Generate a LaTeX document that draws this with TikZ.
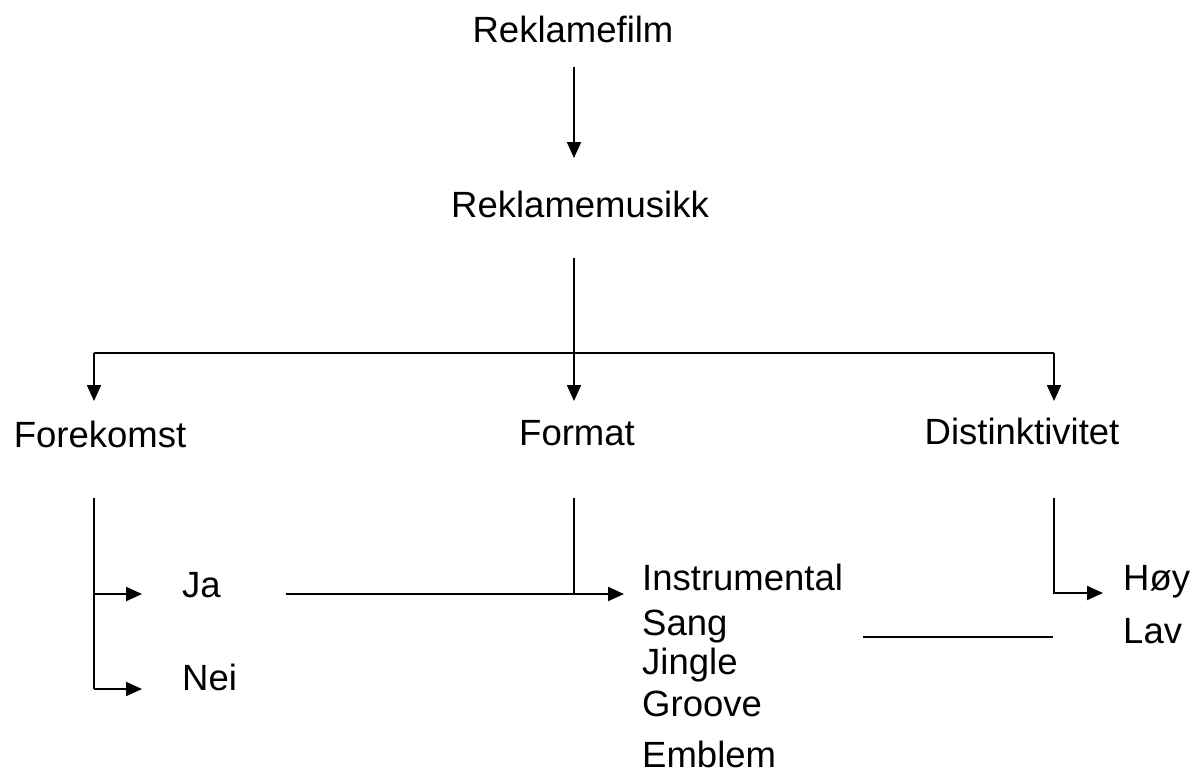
\documentclass[tikz,border=0pt]{standalone}
\usepackage{fontspec}
\setmainfont{Liberation Sans}
\usetikzlibrary{arrows.meta}
\begin{document}
\begin{tikzpicture}[x=1pt,y=-1pt,
  lbl/.style={inner sep=0pt, font=\fontsize{36.5}{42}\selectfont},
  conn/.style={line width=2pt},
  arr/.style={conn,-{Triangle[length=16pt,width=14pt]}}]
\useasboundingbox (0,0) rectangle (1193,773);
% texts
\node[lbl,anchor=base] (rf) at (573,43) {Reklamefilm};
\node[lbl,anchor=base] (rm) at (580,217) {Reklamemusikk};
\node[lbl,anchor=base] (fk) at (100,447) {Forekomst};
\node[lbl,anchor=base] (fm) at (577,445) {Format};
\node[lbl,anchor=base] (di) at (1022,444) {Distinktivitet};
\node[lbl,anchor=base west] (ja) at (182,597) {Ja};
\node[lbl,anchor=base west] (nei) at (182,690) {Nei};
\node[lbl,anchor=base west] (ins) at (642,590) {Instrumental};
\node[lbl,anchor=base west] (sang) at (642,635) {Sang};
\node[lbl,anchor=base west] (jingle) at (642,674) {Jingle};
\node[lbl,anchor=base west] (groove) at (642,716) {Groove};
\node[lbl,anchor=base west] (emblem) at (642,767) {Emblem};
\node[lbl,anchor=base west] (hoy) at (1123,590) {Høy};
\node[lbl,anchor=base west] (lav) at (1123,643) {Lav};
% connector points
\coordinate (rfo) at (574,67);
\coordinate (rmi) at (574,158);
\coordinate (rmo) at (574,258);
\coordinate (bl) at (94,353);
\coordinate (br) at (1054,353);
\coordinate (fki) at (94,401);
\coordinate (fmi) at (574,401);
\coordinate (dii) at (1054,401);
\coordinate (fko) at (94,498);
\coordinate (jai) at (142,594);
\coordinate (neii) at (142,689);
\coordinate (fkj) at (94,594);
\coordinate (fkn) at (94,689);
\coordinate (jao) at (286,594);
\coordinate (insi) at (624,594);
\coordinate (fmo) at (574,498);
\coordinate (fmj) at (574,594);
\coordinate (dio) at (1054,498);
\coordinate (dij) at (1054,593);
\coordinate (hoyi) at (1103,593);
\coordinate (lavs) at (863,637);
\coordinate (lave) at (1053,637);
% connectors
\draw[arr] (rfo) -- (rmi);
\draw[arr] (rmo) -- (fmi);
\draw[conn] (bl) -- (br);
\draw[arr] (bl) -- (fki);
\draw[arr] (br) -- (dii);
\draw[conn] (fko) -- (fkn);
\draw[arr] (fkj) -- (jai);
\draw[arr] (fkn) -- (neii);
\draw[arr] (jao) -- (insi);
\draw[conn] (fmo) -- (fmj);
\draw[arr] (dio) -- (dij) -- (hoyi);
\draw[conn] (lavs) -- (lave);
\end{tikzpicture}
\end{document}
